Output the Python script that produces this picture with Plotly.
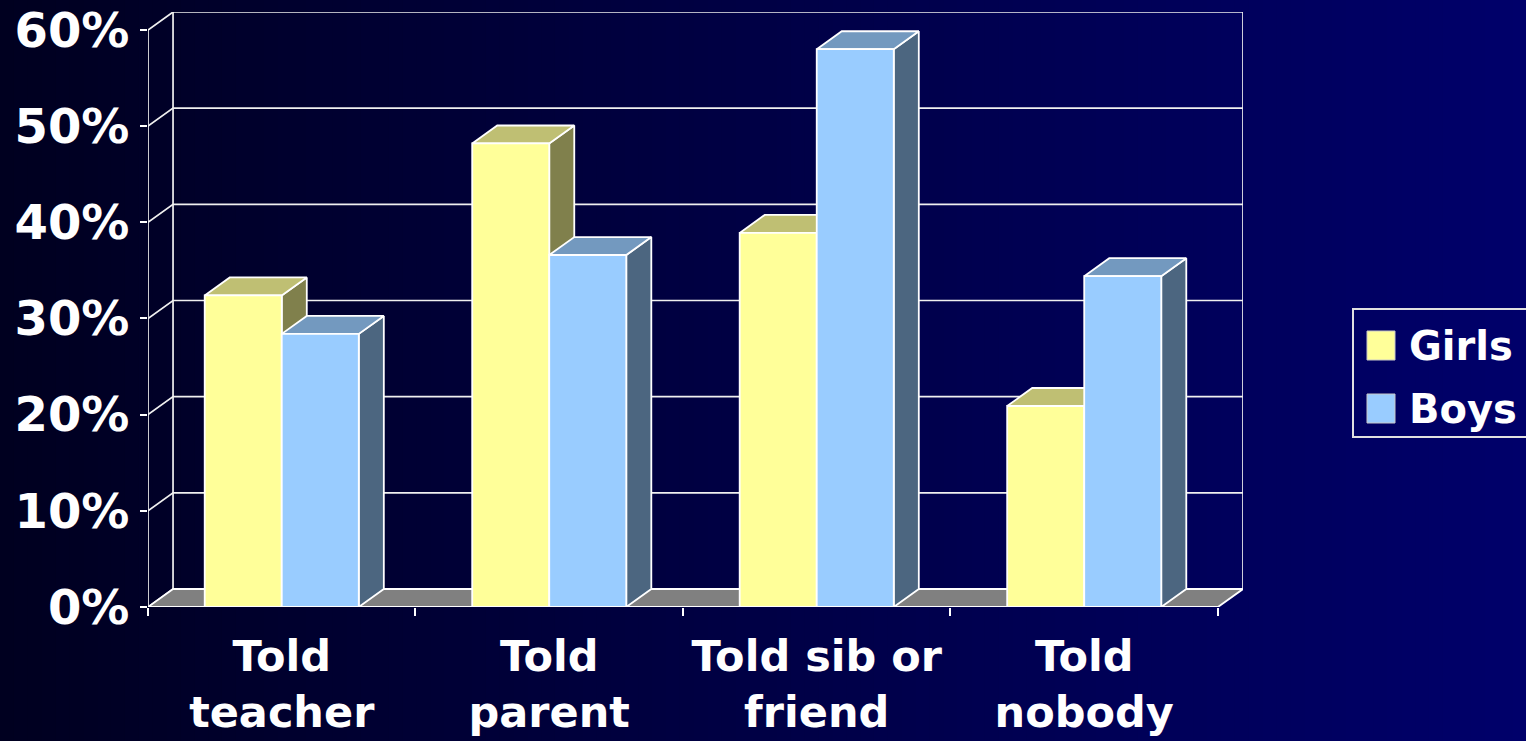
import plotly.graph_objects as go

# ---------------- data ----------------
categories = ["Told<br>teacher", "Told<br>parent", "Told sib or<br>friend", "Told<br>nobody"]
girls = [32.4, 48.2, 38.9, 20.9]
boys = [28.4, 36.6, 58.0, 34.4]
y_ticks = [0, 10, 20, 30, 40, 50, 60]
y_tick_labels = ["0%", "10%", "20%", "30%", "40%", "50%", "60%"]
series_names = ["Girls", "Boys"]

# ---------------- style / 3D geometry ----------------
W = 0.288      # bar width (category units)
DX = 0.0936    # depth offset in x (category units)
DY = 1.87      # depth offset in y (value units)
YMAX = 60

colors = {
    "Girls": {"front": "#FFFF99", "top": "#BFBF73", "side": "#80804C"},
    "Boys": {"front": "#99CCFF", "top": "#7399BF", "side": "#4C6680"},
}
EDGE = "white"
FONT = "DejaVu Sans"

# figure geometry (pixels)
FW, FH = 1526, 741
L, R, T, B = 148, 283, 12, 134
PW = FW - L - R
PH = FH - T - B


def px2x(p):
    return (p - L) / PW


def py2y(p):
    return (FH - B - p) / PH


n = len(categories)
xs = list(range(n))
fig = go.Figure()

# back wall grid lines + diagonals (on the side wall)
gx, gy = [], []
for t in y_ticks:
    gx += [-0.5, -0.5 + DX, n - 0.5 + DX, None]
    gy += [t, t + DY, t + DY, None]
# back wall verticals
gx += [-0.5 + DX, -0.5 + DX, None, n - 0.5 + DX, n - 0.5 + DX, None]
gy += [DY, YMAX + DY, None, DY, YMAX + DY, None]
# front value axis line
gx += [-0.5, -0.5, None]
gy += [0, YMAX, None]
fig.add_trace(go.Scatter(x=gx, y=gy, mode="lines", line=dict(color="#F0F0F0", width=1.7),
                         hoverinfo="skip", showlegend=False, cliponaxis=False))

# floor
fig.add_trace(go.Scatter(
    x=[-0.5, n - 0.5, n - 0.5 + DX, -0.5 + DX, -0.5],
    y=[0, 0, DY, DY, 0],
    mode="lines", fill="toself", fillcolor="#808080",
    line=dict(color=EDGE, width=1.8), hoverinfo="skip", showlegend=False))


def faces(vals, offset):
    side_x, side_y, top_x, top_y, fr_x, fr_y = [], [], [], [], [], []
    for c, v in zip(xs, vals):
        x0 = c + offset
        x1 = x0 + W
        fr_x += [x0, x1, x1, x0, x0, None]
        fr_y += [0, 0, v, v, 0, None]
        top_x += [x0, x1, x1 + DX, x0 + DX, x0, None]
        top_y += [v, v, v + DY, v + DY, v, None]
        side_x += [x1, x1 + DX, x1 + DX, x1, x1, None]
        side_y += [0, DY, v + DY, v, 0, None]
    return (side_x, side_y), (top_x, top_y), (fr_x, fr_y)


for name, vals, off in [("Girls", girls, -W), ("Boys", boys, 0.0)]:
    side, top, front = faces(vals, off)
    for (fx, fy), key in [(side, "side"), (top, "top"), (front, "front")]:
        fig.add_trace(go.Scatter(
            x=fx, y=fy, mode="lines", fill="toself", fillcolor=colors[name][key],
            line=dict(color=EDGE, width=1.8), name=name,
            hoverinfo="skip" if key != "front" else "name",
            showlegend=False))

# background gradient strips (paper coords, covering whole page)
shapes = []
NS = 110
c0 = (0x00, 0x00, 0x20)
c1 = (0x00, 0x00, 0x6A)
for i in range(NS):
    f = i / (NS - 1)
    col = "rgb(%d,%d,%d)" % tuple(round(a + (b - a) * f) for a, b in zip(c0, c1))
    p0 = FW * i / NS
    p1 = FW * (i + 1) / NS + 1
    shapes.append(dict(type="rect", xref="paper", yref="paper", layer="below",
                       x0=px2x(p0), x1=px2x(p1), y0=py2y(FH + 2), y1=py2y(-2),
                       fillcolor=col, line=dict(width=0)))

# manual legend
shapes.append(dict(type="rect", xref="paper", yref="paper",
                   x0=px2x(1353), x1=px2x(1540), y0=py2y(437), y1=py2y(309),
                   line=dict(color="#E0E0E0", width=2), fillcolor="rgba(0,0,0,0)"))
annotations = []
for i, name in enumerate(series_names):
    yc = 345.5 + i * 63
    shapes.append(dict(type="rect", xref="paper", yref="paper",
                       x0=px2x(1367), x1=px2x(1395), y0=py2y(yc + 14.5), y1=py2y(yc - 14.5),
                       fillcolor=colors[name]["front"], line=dict(color="#C8C8C8", width=1)))
    annotations.append(dict(xref="paper", yref="paper", x=px2x(1407), y=py2y(yc),
                            xanchor="left", yanchor="middle", text=name, showarrow=False,
                            font=dict(family=FONT, size=40, color="white", weight="bold")))

fig.update_layout(
    width=FW, height=FH,
    margin=dict(l=L, r=R, t=T, b=B, pad=0, autoexpand=False),
    paper_bgcolor="#000044", plot_bgcolor="rgba(0,0,0,0)",
    shapes=shapes, annotations=annotations, showlegend=False,
    xaxis=dict(range=[-0.5, n - 0.5 + DX], tickmode="array", tickvals=xs, ticktext=categories,
               ticks="", showgrid=False, zeroline=False, showline=False, automargin=False,
               tickfont=dict(family=FONT, size=43, color="white", weight="bold"),
               ticklabelstandoff=20,
               minor=dict(tickmode="array", tickvals=[c - 0.5 for c in range(n + 1)],
                          ticks="outside", ticklen=8, tickwidth=2, tickcolor="white",
                          showgrid=False)),
    yaxis=dict(range=[0, YMAX + DY], tickmode="array", tickvals=y_ticks, ticktext=y_tick_labels,
               ticks="outside", ticklen=7, tickwidth=2, tickcolor="white", automargin=False,
               showgrid=False, zeroline=False, showline=False,
               tickfont=dict(family=FONT, size=48, color="white", weight="bold"),
               ticklabelstandoff=1),
)

fig.write_html("out.html",
               config={"displayModeBar": False},
               post_script="document.body.style.margin='0px';"
                           "document.body.style.overflow='hidden';"
                           "document.body.style.background='#000020';")
